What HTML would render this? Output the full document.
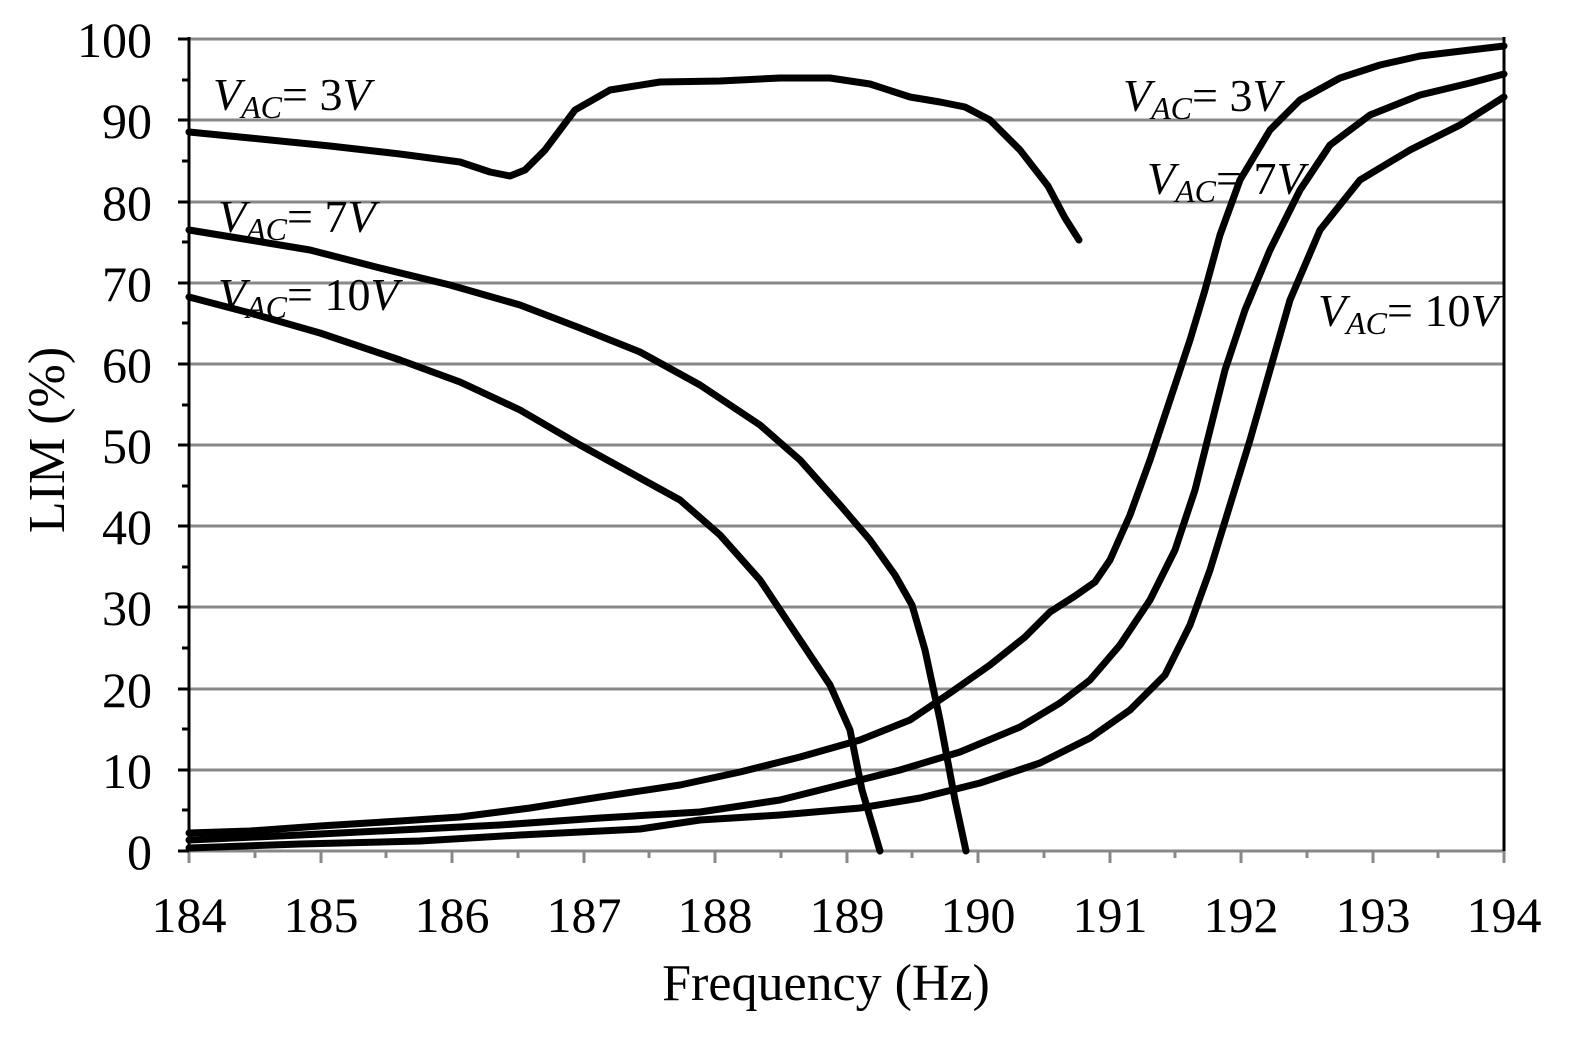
<!DOCTYPE html>
<html><head><meta charset="utf-8"><style>
html,body{margin:0;padding:0;background:#fff;}
svg{display:block;}
text{font-family:"Liberation Serif",serif;fill:#000;}
</style></head><body>
<svg width="1581" height="1041" viewBox="0 0 1581 1041" xmlns="http://www.w3.org/2000/svg">
<g stroke="#888" stroke-width="3">
<line x1="189" y1="39" x2="1504" y2="39"/>
<line x1="189" y1="120" x2="1504" y2="120"/>
<line x1="189" y1="202" x2="1504" y2="202"/>
<line x1="189" y1="283" x2="1504" y2="283"/>
<line x1="189" y1="364" x2="1504" y2="364"/>
<line x1="189" y1="445" x2="1504" y2="445"/>
<line x1="189" y1="526" x2="1504" y2="526"/>
<line x1="189" y1="607" x2="1504" y2="607"/>
<line x1="189" y1="689" x2="1504" y2="689"/>
<line x1="189" y1="770" x2="1504" y2="770"/>
</g>
<g stroke="#888" stroke-width="3">
<line x1="189" y1="851" x2="1504" y2="851"/>
<path d="M189 851v12M255 851v7M321 851v12M386 851v7M452 851v12M518 851v7M584 851v12M649 851v7M715 851v12M781 851v7M847 851v12M912 851v7M978 851v12M1044 851v7M1110 851v12M1175 851v7M1241 851v12M1307 851v7M1373 851v12M1438 851v7M1504 851v12"/>
</g>
<g stroke="#000" stroke-width="3">
<line x1="189" y1="37" x2="189" y2="851"/>
<line x1="1504" y1="37" x2="1504" y2="851"/>
<path d="M178 39h11M182 80h7M178 120h11M182 161h7M178 202h11M182 242h7M178 283h11M182 323h7M178 364h11M182 405h7M178 445h11M182 486h7M178 526h11M182 567h7M178 607h11M182 648h7M178 689h11M182 729h7M178 770h11M182 810h7M178 851h11"/>
</g>
<g font-size="50" text-anchor="end">
<text x="152" y="57">100</text><text x="152" y="138">90</text><text x="152" y="220">80</text>
<text x="152" y="301">70</text><text x="152" y="382">60</text><text x="152" y="463">50</text>
<text x="152" y="544">40</text><text x="152" y="625">30</text><text x="152" y="707">20</text>
<text x="152" y="788">10</text><text x="152" y="869">0</text>
</g>
<g font-size="50" text-anchor="middle">
<text x="189" y="932">184</text><text x="321" y="932">185</text><text x="452" y="932">186</text>
<text x="584" y="932">187</text><text x="715" y="932">188</text><text x="847" y="932">189</text>
<text x="978" y="932">190</text><text x="1110" y="932">191</text><text x="1241" y="932">192</text>
<text x="1373" y="932">193</text><text x="1504" y="932">194</text>
</g>
<text x="826" y="1000" font-size="52" text-anchor="middle">Frequency (Hz)</text>
<text transform="translate(64,440) rotate(-90)" font-size="52" text-anchor="middle">LIM (%)</text>
<g fill="none" stroke="#000" stroke-width="7" stroke-linejoin="round" stroke-linecap="round">
<polyline points="189,132 250,138 330,146 400,154 460,162 490,172 510,176 525,170 545,150 575,110 610,90 660,82 720,81 780,78 830,78 870,84 910,97 940,102 965,107 990,120 1020,150 1048,186 1065,218 1079,240"/>
<polyline points="189,230 250,240 310,250 380,268 450,285 520,305 580,328 640,352 700,385 760,425 800,460 840,505 870,540 895,575 912,605 925,650 940,720 955,800 966,851"/>
<polyline points="189,297 250,313 320,333 400,360 460,382 520,410 580,445 640,478 680,500 720,535 760,580 800,640 830,685 850,730 862,790 880,851"/>
<polyline points="189,833 250,831 320,826 400,821 460,817 530,808 600,797 680,785 740,772 800,757 860,740 910,720 950,693 990,665 1025,637 1050,612 1075,596 1095,582 1110,560 1130,515 1150,460 1170,400 1190,340 1205,290 1220,235 1240,180 1270,130 1300,100 1340,78 1380,65 1420,56 1470,50 1504,46"/>
<polyline points="189,840 300,835 400,830 500,825 600,818 700,812 780,800 840,785 900,770 960,752 1020,727 1060,703 1090,680 1120,645 1150,600 1175,550 1195,490 1210,430 1225,370 1245,310 1270,250 1300,190 1330,145 1370,115 1420,95 1470,83 1504,74"/>
<polyline points="189,848 300,844 420,841 520,835 640,829 700,820 780,815 860,808 920,798 980,783 1040,763 1090,738 1130,710 1165,675 1190,625 1210,570 1230,505 1250,440 1270,370 1290,300 1320,230 1360,180 1410,150 1460,125 1504,97"/>
</g>
<g font-size="46">
<text x="213" y="110"><tspan font-style="italic">V</tspan><tspan font-style="italic" font-size="32" dy="8">AC</tspan><tspan dy="-8">= 3</tspan><tspan font-style="italic">V</tspan></text>
<text x="218" y="232"><tspan font-style="italic">V</tspan><tspan font-style="italic" font-size="32" dy="8">AC</tspan><tspan dy="-8">= 7</tspan><tspan font-style="italic">V</tspan></text>
<text x="218" y="310"><tspan font-style="italic">V</tspan><tspan font-style="italic" font-size="32" dy="8">AC</tspan><tspan dy="-8">= 10</tspan><tspan font-style="italic">V</tspan></text>
<text x="1123" y="111"><tspan font-style="italic">V</tspan><tspan font-style="italic" font-size="32" dy="8">AC</tspan><tspan dy="-8">= 3</tspan><tspan font-style="italic">V</tspan></text>
<text x="1147" y="194"><tspan font-style="italic">V</tspan><tspan font-style="italic" font-size="32" dy="8">AC</tspan><tspan dy="-8">= 7</tspan><tspan font-style="italic">V</tspan></text>
<text x="1318" y="326"><tspan font-style="italic">V</tspan><tspan font-style="italic" font-size="32" dy="8">AC</tspan><tspan dy="-8">= 10</tspan><tspan font-style="italic">V</tspan></text>
</g>
</svg>
</body></html>
